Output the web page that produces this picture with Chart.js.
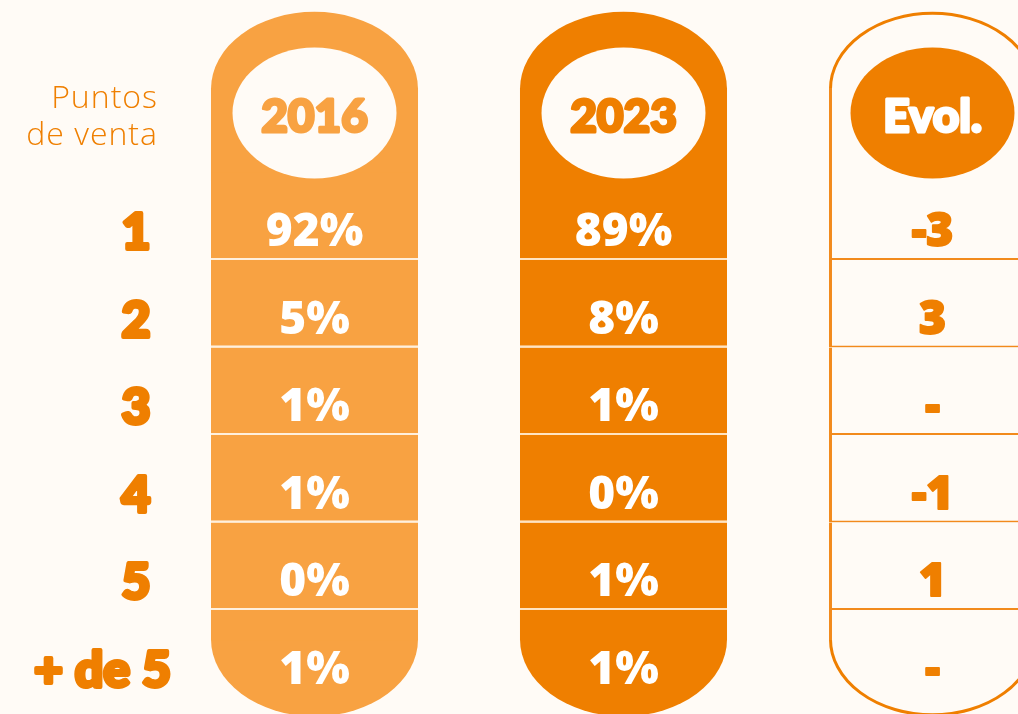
<!DOCTYPE html>
<html>
<head>
<meta charset="utf-8">
<script src="https://cdn.jsdelivr.net/npm/chart.js@4/dist/chart.umd.min.js"></script>
<style>
  html, body { margin: 0; padding: 0; background: #FFFBF6; }
  #wrap { width: 1018px; height: 714px; }
</style>
</head>
<body>
<div id="wrap"><canvas id="chart" width="1018" height="714"></canvas></div>
<script>
// data
const columns = ['2016', '2023', 'Evol.'];
const rowLabels = ['1', '2', '3', '4', '5', '+ de 5'];
const share2016 = [92, 5, 1, 1, 0, 1];
const share2023 = [89, 8, 1, 0, 1, 1];
const evolution = [-3, 3, 0, -1, 1, 0];

const BG = '#FFFBF6';
const LIGHT = '#F8A242';
const DARK = '#EF7F00';

// row units on the y axis: row i is centred on i
const headerTop = -1.466;   // where the straight sides start
const capDepth = 0.87;      // height of the rounded cap, in rows
const bodyBottom = 4.845;   // where the bottom cap starts
const headerY = -1.18;
const labelX = -0.578;

function cells(col) {
  // header cell runs a little into row 1 so no seam shows
  const out = [{ x: col, y: [headerTop, -0.4] }];
  rowLabels.forEach((r, i) => {
    out.push({ x: col, y: [i - 0.5, i === rowLabels.length - 1 ? bodyBottom : i + 0.5] });
  });
  return out;
}

function sepWidth(ctx) {
  const i = ctx.dataIndex;
  return (i >= 1 && i < rowLabels.length) ? 2 : 0;
}

const fills = [LIGHT, DARK, BG];
const seps = ['rgba(255,238,215,0.8)', 'rgba(255,222,180,0.8)', '#F28A1C'];

const datasets = columns.map((c, k) => ({
  label: c,
  data: cells(k),
  backgroundColor: fills[k],
  borderColor: seps[k],
  borderSkipped: false,
  borderWidth: ctx => {
    const b = sepWidth(ctx);
    if (k === 2) return { top: 0, bottom: b, left: 3, right: 3 };
    return { top: 0, bottom: b, left: 0, right: 0 };
  },
  grouped: false,
  barPercentage: 0.67,
  categoryPercentage: 1
}));

function fmtEvol(v) {
  return v === 0 ? '-' : String(v);
}

// heavy text: fill plus a stroke of the same colour to thicken it
function heavyText(ctx, txt, x, y, w) {
  ctx.lineJoin = 'round';
  ctx.lineWidth = w;
  ctx.strokeStyle = ctx.fillStyle;
  ctx.strokeText(txt, x, y);
  ctx.fillText(txt, x, y);
}

const pillPlugin = {
  id: 'pills',
  beforeDatasetsDraw(chart) {
    const { ctx, scales: { y } } = chart;
    chart.data.datasets.forEach((ds, k) => {
      const meta = chart.getDatasetMeta(k);
      const first = meta.data[0];
      const last = meta.data[meta.data.length - 1];
      const rx = first.width / 2;
      const topY = y.getPixelForValue(headerTop);
      const ry = y.getPixelForValue(headerTop) - y.getPixelForValue(headerTop - capDepth);
      const botY = y.getPixelForValue(bodyBottom);
      ctx.save();
      ctx.fillStyle = fills[k];
      ctx.beginPath();
      ctx.ellipse(first.x, topY + 1, rx, ry + 1, 0, Math.PI, 2 * Math.PI);
      ctx.fill();
      ctx.beginPath();
      ctx.ellipse(last.x, botY - 1, rx, ry + 1, 0, 0, Math.PI);
      ctx.fill();
      if (k === 2) {
        ctx.strokeStyle = DARK;
        ctx.lineWidth = 3;
        ctx.beginPath();
        ctx.ellipse(first.x, topY + 1, rx - 1.5, ry - 0.5, 0, Math.PI, 2 * Math.PI);
        ctx.stroke();
        ctx.beginPath();
        ctx.ellipse(last.x, botY - 1, rx - 1.5, ry - 0.5, 0, 0, Math.PI);
        ctx.stroke();
      }
      ctx.restore();
    });
  },
  afterDatasetsDraw(chart) {
    const { ctx, scales: { x, y } } = chart;
    ctx.save();
    ctx.textAlign = 'center';
    ctx.textBaseline = 'alphabetic';

    // header ovals
    columns.forEach((c, k) => {
      const cx = x.getPixelForValue(k);
      const cy = y.getPixelForValue(headerY);
      ctx.fillStyle = k === 2 ? DARK : BG;
      ctx.beginPath();
      ctx.ellipse(cx, cy, 82, 65.5, 0, 0, 2 * Math.PI);
      ctx.fill();
      ctx.fillStyle = k === 2 ? '#FFFFFF' : fills[k];
      ctx.font = '900 46px Lato';
      heavyText(ctx, c, cx, cy + 19, 3);
    });

    // side title
    ctx.fillStyle = DARK;
    ctx.textAlign = 'right';
    ctx.font = '300 32px "Open Sans"';
    ctx.letterSpacing = '1px';
    ctx.fillText('Puntos', 158, 108);
    ctx.fillText('de venta', 158, 145);
    ctx.letterSpacing = '0px';

    // row labels
    ctx.font = '900 50px Lato';
    rowLabels.forEach((r, i) => {
      const cy = y.getPixelForValue(i) + 33;
      if (r.length > 1) {
        ctx.textAlign = 'right';
        heavyText(ctx, r, 171, cy, 4);
      } else {
        ctx.textAlign = 'center';
        heavyText(ctx, r, x.getPixelForValue(labelX), cy, 4);
      }
    });

    // cell values
    ctx.textAlign = 'center';
    ctx.font = '800 46px "Open Sans"';
    rowLabels.forEach((r, i) => {
      const cy = y.getPixelForValue(i) + 30;
      ctx.fillStyle = '#FFFFFF';
      ctx.fillText(share2016[i] + '%', x.getPixelForValue(0), cy);
      ctx.fillText(share2023[i] + '%', x.getPixelForValue(1), cy);
      ctx.fillStyle = DARK;
      heavyText(ctx, fmtEvol(evolution[i]), x.getPixelForValue(2), cy, 2);
    });
    ctx.restore();
  }
};

new Chart(document.getElementById('chart'), {
  type: 'bar',
  data: { datasets },
  options: {
    responsive: false,
    animation: false,
    layout: { padding: 0 },
    plugins: { legend: { display: false }, tooltip: { enabled: false } },
    scales: {
      x: {
        type: 'linear', min: -1.0178, max: 2.2767, offset: false, display: false,
        afterBuildTicks: s => { s.ticks = columns.map((c, k) => ({ value: k })); }
      },
      y: { type: 'linear', min: -2.471, max: 5.689, reverse: true, display: false }
    }
  },
  plugins: [pillPlugin]
});
</script>
</body>
</html>
